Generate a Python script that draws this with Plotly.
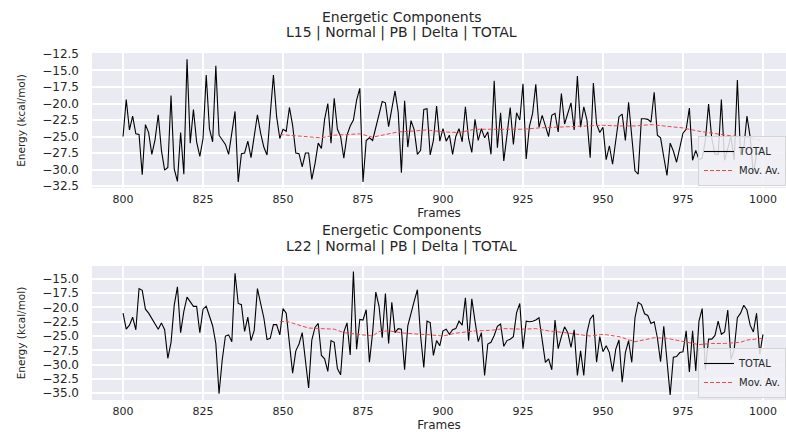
import plotly.graph_objects as go

# ---------------- data ----------------
frames = list(range(800, 1001))

total_l15 = [
    -25.0, -19.4, -24.0, -21.9, -24.6, -24.7, -30.8, -23.2, -24.4, -27.7,
    -25.5, -21.7, -27.1, -30.1, -29.7, -18.8, -29.9, -31.8, -24.4, -30.7,
    -13.3, -26.0, -20.9, -25.8, -28.0, -25.3, -15.7, -23.8, -25.8, -14.3,
    -24.8, -25.6, -26.2, -27.7, -24.3, -21.2, -31.9, -27.6, -27.5, -25.7,
    -28.2, -24.8, -21.7, -24.5, -26.6, -27.8, -22.0, -15.7, -22.0, -25.3,
    -23.9, -24.2, -20.6, -23.3, -27.5, -27.6, -29.6, -27.5, -27.5, -31.5,
    -29.1, -26.0, -26.8, -22.4, -20.0, -26.0, -19.2, -23.9, -25.0, -28.3,
    -24.8, -23.4, -22.5, -19.5, -17.7, -31.9, -25.6, -25.2, -25.6, -23.5,
    -21.6, -19.7, -19.9, -23.5, -20.8, -18.1, -21.3, -30.5, -19.6, -26.6,
    -22.6, -24.0, -27.7, -27.1, -20.9, -20.8, -27.8, -25.6, -20.4, -25.7,
    -23.8, -25.7, -24.8, -27.7, -25.0, -23.8, -25.8, -20.5, -25.3, -27.4,
    -22.4, -25.6, -23.8, -25.2, -24.3, -27.7, -16.55, -26.7, -21.4, -28.7,
    -24.8, -20.6, -26.2, -21.4, -22.5, -17.0, -28.4, -23.5, -21.5, -17.1,
    -23.6, -21.8, -23.4, -25.0, -21.8, -21.5, -24.3, -18.5, -23.1, -21.5,
    -19.9, -24.0, -15.85, -23.6, -20.5, -22.5, -28.2, -16.9, -23.1, -24.4,
    -23.6, -28.5, -26.4, -29.2, -25.8, -22.0, -21.6, -25.6, -19.8, -25.0,
    -30.2, -30.7, -22.3, -22.3, -22.4, -22.8, -18.3, -24.8, -25.2, -28.1,
    -30.9, -26.0, -27.2, -28.9, -26.6, -24.5, -23.9, -20.7, -28.6, -27.1,
    -28.5, -28.3, -25.6, -20.1, -25.3, -27.7, -27.7, -19.4, -28.6, -26.7,
    -25.0, -28.6, -16.45, -27.8, -26.8, -21.9, -25.1, -30.7, -27.6, -27.6,
    -26.6,
]

total_l22 = [
    -21.0, -23.8, -23.1, -21.7, -23.9, -16.7, -17.0, -20.3, -21.0, -21.9,
    -22.7, -23.8, -22.7, -23.9, -28.9, -26.1, -19.6, -16.4, -24.4, -20.7,
    -18.2, -18.9, -19.8, -19.8, -24.4, -20.3, -19.8, -21.5, -23.2, -26.3,
    -35.1, -29.2, -25.0, -24.8, -26.0, -14.0, -19.3, -19.5, -24.2, -21.7,
    -25.8, -24.0, -16.7, -19.3, -21.8, -25.6, -25.4, -23.0, -23.0, -24.8,
    -20.2, -21.0, -25.8, -31.5, -27.6, -26.4, -24.4, -29.3, -34.1, -25.7,
    -23.5, -22.8, -28.4, -29.0, -31.2, -25.8, -26.1, -30.7, -31.8, -24.3,
    -22.7, -28.3, -13.7, -27.3, -22.1, -22.2, -20.4, -29.6, -24.4, -17.3,
    -19.75, -25.3, -17.55, -26.3, -19.1, -24.4, -23.7, -23.8, -30.9, -23.2,
    -20.8, -18.9, -16.9, -25.0, -30.5, -22.4, -22.65, -28.4, -25.8, -26.7,
    -24.1, -23.8, -24.7, -23.9, -23.7, -22.4, -23.1, -18.3, -25.8, -18.5,
    -22.4, -26.0, -24.4, -31.9, -26.4, -26.1, -24.9, -23.3, -22.9, -26.8,
    -25.8, -25.55, -25.1, -20.9, -19.3, -27.2, -22.4, -22.5, -22.4, -22.2,
    -21.8, -26.1, -29.6, -29.0, -30.9, -22.2, -27.2, -25.1, -23.4, -24.4,
    -27.0, -23.9, -31.9, -27.6, -31.9, -24.4, -22.0, -21.3, -29.6, -25.1,
    -27.75, -26.7, -27.9, -31.2, -27.3, -25.7, -33.1, -27.9, -25.8, -29.6,
    -21.8, -19.1, -19.5, -21.1, -21.4, -22.8, -22.5, -25.3, -29.5, -23.3,
    -29.0, -35.3, -28.7, -28.6, -27.9, -27.75, -24.1, -31.3, -24.1, -31.1,
    -22.4, -20.2, -30.9, -25.55, -25.55, -24.9, -22.4, -24.7, -24.3, -20.45,
    -29.1, -27.4, -21.8, -21.0, -19.6, -20.45, -23.1, -24.3, -21.0, -28.2,
    -24.7,
]

ma_frames_l15 = [849, 852, 857, 862, 866, 870, 874, 878, 882, 886, 890, 895,
                 900, 905, 910, 915, 920, 925, 930, 935, 940, 945, 950, 955,
                 960, 965, 970, 975, 980, 985, 990, 995, 1000]
ma_l15 = [-24.7, -24.8, -25.0, -25.2, -24.8, -24.7, -24.6, -25.1, -24.7, -24.3,
          -24.2, -24.0, -24.3, -24.4, -23.9, -23.9, -23.9, -23.9, -23.7, -23.6,
          -23.4, -23.3, -23.3, -23.4, -23.4, -23.2, -23.4, -23.7, -24.2, -24.6,
          -24.9, -25.1, -25.7]

ma_frames_l22 = [849, 851, 855, 858, 862, 866, 869, 872, 875, 878, 880, 883,
                 888, 892, 896, 900, 904, 910, 915, 919, 925, 929, 933, 938,
                 943, 946, 950, 955, 960, 966, 970, 974, 980, 984, 988, 993,
                 995, 1000]
ma_l22 = [-22.5, -22.4, -23.1, -23.6, -23.7, -23.8, -24.4, -24.6, -24.7, -25.0,
          -24.2, -24.1, -24.5, -24.6, -24.8, -25.0, -24.5, -24.1, -24.0, -23.7,
          -23.8, -23.7, -24.1, -24.4, -24.8, -25.0, -24.7, -25.1, -26.0, -25.3,
          -25.4, -25.8, -26.5, -26.3, -26.3, -26.1, -25.7, -25.4]

x_ticks = [800, 825, 850, 875, 900, 925, 950, 975, 1000]
y_ticks_l15 = [-32.5, -30.0, -27.5, -25.0, -22.5, -20.0, -17.5, -15.0, -12.5]
y_ticks_l22 = [-35.0, -32.5, -30.0, -27.5, -25.0, -22.5, -20.0, -17.5, -15.0]

title_line1 = "Energetic Components"
title_l15 = "L15 | Normal | PB | Delta | TOTAL"
title_l22 = "L22 | Normal | PB | Delta | TOTAL"

# ---------------- style ----------------
W, H = 786, 432
BG = "#EAEAF2"
TXT = "#262626"
FONT = "DejaVu Sans"
MA_COLOR = "#f04848"

fig = go.Figure()

fig.add_trace(go.Scatter(x=frames, y=total_l15, mode="lines", name="TOTAL",
                         line=dict(color="black", width=1.1),
                         xaxis="x", yaxis="y", legend="legend"))
fig.add_trace(go.Scatter(x=ma_frames_l15, y=ma_l15, mode="lines", name="Mov. Av.",
                         line=dict(color=MA_COLOR, width=1, dash="4px,2px"),
                         xaxis="x", yaxis="y", legend="legend"))
fig.add_trace(go.Scatter(x=frames, y=total_l22, mode="lines", name="TOTAL",
                         line=dict(color="black", width=1.1),
                         xaxis="x2", yaxis="y2", legend="legend2"))
fig.add_trace(go.Scatter(x=ma_frames_l22, y=ma_l22, mode="lines", name="Mov. Av.",
                         line=dict(color=MA_COLOR, width=1, dash="4px,2px"),
                         xaxis="x2", yaxis="y2", legend="legend2"))

left = 92 / W
top_dom = [1 - 188 / H, 1 - 53 / H]
bot_dom = [1 - 400 / H, 1 - 266 / H]

def xax(anchor):
    return dict(domain=[left, 1.0], anchor=anchor, range=[790.3, 1007.2],
                tickvals=x_ticks, ticktext=[str(v) for v in x_ticks],
                showgrid=True, gridcolor="white", gridwidth=1.5,
                zeroline=False, showline=False, ticks="",
                ticklabelstandoff=3,
                tickfont=dict(family=FONT, size=11, color=TXT),
                title=dict(text="Frames", font=dict(family=FONT, size=12, color=TXT),
                           standoff=2),
                automargin=False)

def yax(anchor, dom, rng, ticks):
    return dict(domain=dom, anchor=anchor, range=rng,
                tickvals=ticks, ticktext=[f"\u2212{abs(v):.1f}" for v in ticks],
                showgrid=True, gridcolor="white", gridwidth=1.5,
                zeroline=False, showline=False, ticks="",
                ticklabelstandoff=12,
                tickfont=dict(family=FONT, size=12, color=TXT),
                title=dict(text="Energy (kcal/mol)",
                           font=dict(family=FONT, size=10.5, color=TXT),
                           standoff=14),
                automargin=False)

legend_style = dict(xanchor="right", x=1.0, yanchor="bottom",
                    bgcolor="rgba(240,240,246,0.85)", bordercolor="#d4d4d4",
                    borderwidth=1, font=dict(family=FONT, size=10, color=TXT),
                    itemwidth=30, tracegroupgap=0)

fig.update_layout(
    width=W, height=H, autosize=False,
    margin=dict(l=0, r=0, t=0, b=0),
    paper_bgcolor="white", plot_bgcolor=BG,
    font=dict(family=FONT, color=TXT),
    showlegend=True,
    xaxis=xax("y"),
    yaxis=yax("x", top_dom, [-32.8, -12.35], y_ticks_l15),
    xaxis2=xax("y2"),
    yaxis2=yax("x2", bot_dom, [-36.2, -12.74], y_ticks_l22),
    legend=dict(y=1 - 186 / H, **legend_style),
    legend2=dict(y=1 - 398 / H, **legend_style),
)

cx = 402 / W
for text, ypx in [(title_line1, 17), (title_l15, 33), (title_line1, 230), (title_l22, 246)]:
    fig.add_annotation(text=text, xref="paper", yref="paper", x=cx, y=1 - ypx / H,
                       xanchor="center", yanchor="middle", showarrow=False,
                       font=dict(family=FONT, size=14, color=TXT))

fig.write_html("out.html")
